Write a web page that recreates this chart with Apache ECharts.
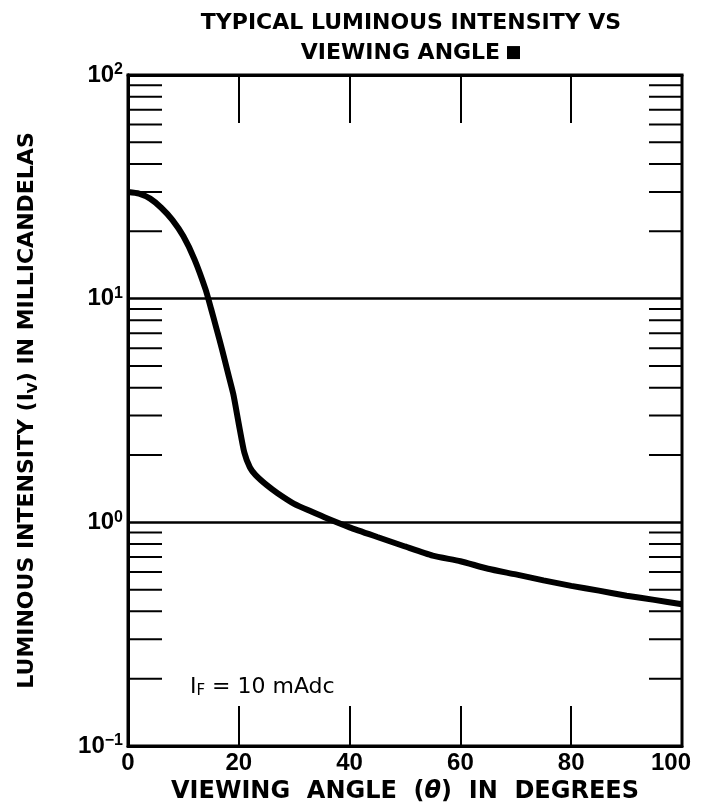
<!DOCTYPE html>
<html>
<head>
<meta charset="utf-8">
<script src="https://cdn.jsdelivr.net/npm/echarts@6/dist/echarts.min.js"></script>
<style>
html,body{margin:0;padding:0;background:#fff;}
#chart{width:704px;height:809px;}
</style>
</head>
<body>
<div id="chart"></div>
<script>
// Viewing angle (degrees)
const angles = [0, 2, 4, 6, 8, 10, 12, 14, 15, 16, 17, 18, 19, 20, 21, 22, 23, 25, 27, 30, 33, 36, 40, 45, 50, 55, 60, 65, 70, 75, 80, 85, 90, 95, 100];
// Luminous intensity (mcd)
const intensity = [30, 29.5, 28, 25.5, 22.5, 19, 15, 11, 9.0, 7.3, 5.9, 4.7, 3.75, 2.75, 2.05, 1.76, 1.63, 1.47, 1.35, 1.21, 1.12, 1.04, 0.95, 0.86, 0.78, 0.71, 0.67, 0.62, 0.585, 0.55, 0.52, 0.495, 0.47, 0.45, 0.43];
// Axis ranges and ticks
const xMin = 0, xMax = 100, xStep = 20;
const yMin = 0.1, yMax = 100;
const decades = [0.1, 1, 10];
const minorMultipliers = [2, 3, 4, 5, 6, 7, 8, 9];
const minorTickValues = [];
decades.forEach(d => minorMultipliers.forEach(m => minorTickValues.push(+(d * m).toPrecision(3))));

const titleLines = ['TYPICAL LUMINOUS INTENSITY VS', 'VIEWING ANGLE'];
const noteText = { main: 'I', sub: 'F', rest: ' = 10 mAdc' };

const NUM = "'Liberation Sans Narrow', 'Liberation Sans', Arial, sans-serif";
const WIDE = "'DejaVu Sans', 'Liberation Sans', sans-serif";

const chart = echarts.init(document.getElementById('chart'), null, { renderer: 'canvas' });

const option = {
  backgroundColor: '#fff',
  animation: false,
  title: {
    text: '{t|' + titleLines[0] + '}\n{t|' + titleLines[1] + '} {sq|■}',
    left: 406,
    top: 3,
    textAlign: 'center',
    textStyle: {
      rich: {
        t: { fontFamily: WIDE, fontSize: 22, color: '#000', lineHeight: 30, fontWeight: 'bold' },
        sq: { fontFamily: WIDE, fontSize: 17, color: '#000', lineHeight: 30 }
      }
    }
  },
  grid: {
    left: 128, right: 22, top: 75, bottom: 63,
    show: true, borderColor: '#000', borderWidth: 3, containLabel: false
  },
  xAxis: [{
    type: 'value', min: xMin, max: xMax, interval: xStep,
    position: 'bottom',
    axisLine: { show: true, lineStyle: { color: '#000', width: 3 } },
    axisTick: { show: true, inside: true, length: 40, lineStyle: { color: '#000', width: 2 } },
    splitLine: { show: false },
    axisLabel: {
      margin: 5, color: '#000',
      formatter: function (v) { return v === xMax ? '{r|' + v + '}' : '{n|' + v + '}'; },
      rich: {
        n: { fontFamily: NUM, fontSize: 24, fontWeight: 'bold', color: '#000' },
        r: { fontFamily: NUM, fontSize: 24, fontWeight: 'bold', color: '#000', padding: [0, 22, 0, 0] }
      }
    },
    name: 'VIEWING  ANGLE  ({th|θ})  IN  DEGREES',
    nameLocation: 'middle',
    nameGap: 29,
    nameTextStyle: {
      color: '#000', fontFamily: WIDE, fontSize: 24, fontWeight: 'bold',
      rich: { th: { fontFamily: WIDE, fontSize: 24, fontWeight: 'bold', fontStyle: 'italic', color: '#000' } }
    }
  }, {
    type: 'value', min: xMin, max: xMax, interval: xStep,
    position: 'top',
    axisLine: { show: true, lineStyle: { color: '#000', width: 3 } },
    axisTick: { show: true, inside: true, length: 48, lineStyle: { color: '#000', width: 2 } },
    splitLine: { show: false },
    axisLabel: { show: false }
  }],
  yAxis: [{
    type: 'log', logBase: 10, min: yMin, max: yMax,
    position: 'left',
    axisLine: { show: true, lineStyle: { color: '#000', width: 3 } },
    axisTick: { show: false },
    minorTick: { show: false },
    splitLine: { show: true, lineStyle: { color: '#000', width: 2.5 } },
    axisLabel: {
      margin: 5,
      formatter: function (v) {
        const e = Math.round(Math.log10(v));
        return '{b|10}{s|' + (e < 0 ? '\u2212' + (-e) : e) + '}';
      },
      rich: {
        b: { fontFamily: NUM, fontSize: 24, fontWeight: 'bold', color: '#000', lineHeight: 26 },
        s: { fontFamily: NUM, fontSize: 16, fontWeight: 'bold', color: '#000', verticalAlign: 'top', lineHeight: 16 }
      }
    },
    name: 'LUMINOUS INTENSITY ({b|I}{sub|V}) IN MILLICANDELAS',
    nameLocation: 'middle',
    nameRotate: 90,
    nameGap: 88,
    nameTextStyle: {
      color: '#000', fontFamily: WIDE, fontSize: 22, fontWeight: 'bold',
      rich: {
        b: { fontFamily: WIDE, fontSize: 22, fontWeight: 'bold', color: '#000', lineHeight: 26 },
        sub: { fontFamily: WIDE, fontSize: 14, fontWeight: 'bold', color: '#000', verticalAlign: 'bottom', lineHeight: 14, padding: [10, 0, 0, 0] }
      }
    }
  }, {
    type: 'log', logBase: 10, min: yMin, max: yMax,
    position: 'right',
    axisLine: { show: true, lineStyle: { color: '#000', width: 3 } },
    axisTick: { show: false },
    splitLine: { show: false },
    axisLabel: { show: false }
  }],
  graphic: [{
    type: 'text',
    left: 190,
    top: 672,
    style: {
      text: '{m|' + noteText.main + '}{s|' + noteText.sub + '}{m|' + noteText.rest + '}',
      rich: {
        m: { fontFamily: WIDE, fontSize: 22, color: '#000', lineHeight: 24 },
        s: { fontFamily: WIDE, fontSize: 15, color: '#000', verticalAlign: 'bottom', lineHeight: 15, padding: [12, 0, 0, 0] }
      }
    }
  }],
  series: [{
    type: 'custom',
    name: 'minorTicks',
    xAxisIndex: 0, yAxisIndex: 0,
    silent: true,
    clip: false,
    data: minorTickValues.map(v => [xMin, v]),
    renderItem: function (params, api) {
      const v = api.value(1);
      const l = api.coord([xMin, v]);
      const r = api.coord([xMax, v]);
      return {
        type: 'group',
        children: [
          { type: 'line', shape: { x1: l[0], y1: l[1], x2: l[0] + 34, y2: l[1] }, style: { stroke: '#000', lineWidth: 2 } },
          { type: 'line', shape: { x1: r[0] - 33, y1: r[1], x2: r[0], y2: r[1] }, style: { stroke: '#000', lineWidth: 2 } }
        ]
      };
    }
  }, {
    type: 'line',
    name: 'Iv',
    xAxisIndex: 0, yAxisIndex: 0,
    data: angles.map((a, i) => [a, intensity[i]]),
    showSymbol: false,
    smooth: 0.2,
    lineStyle: { color: '#000', width: 6 },
    z: 5
  }]
};

chart.setOption(option);
</script>
</body>
</html>
